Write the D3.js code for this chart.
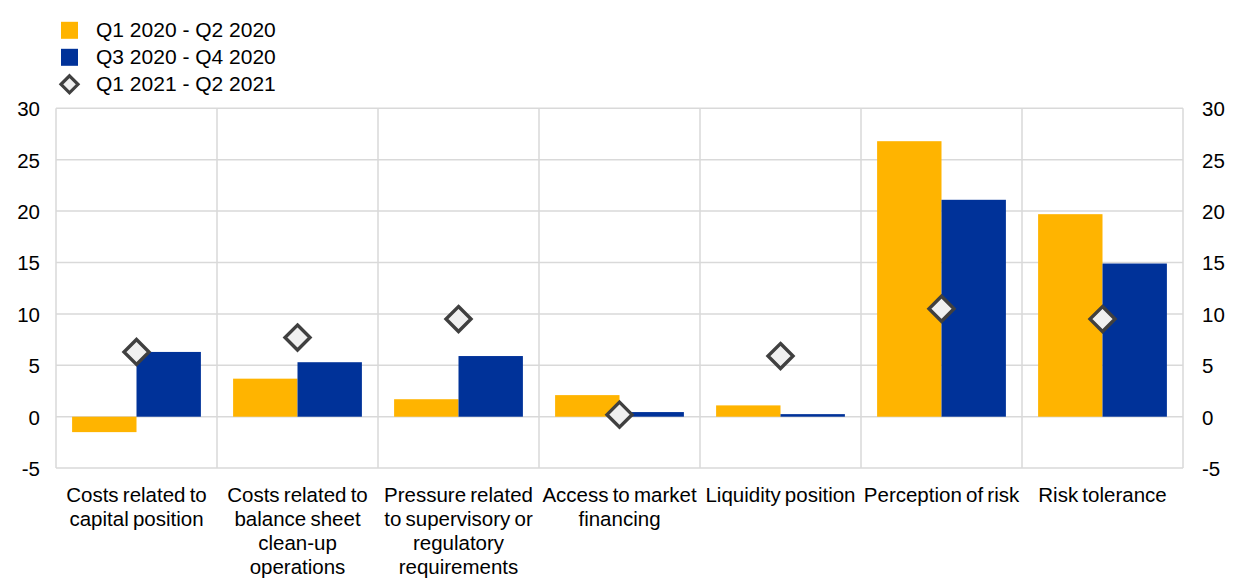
<!DOCTYPE html>
<html><head><meta charset="utf-8">
<script src="https://cdn.jsdelivr.net/npm/d3@7"></script>
<style>body{margin:0;background:#fff;} text{font-family:"Liberation Sans",Arial,sans-serif;}</style>
</head><body><svg id="c" width="1240" height="587"></svg>
<script>
const categories = [
  ["Costs related to","capital position"],
  ["Costs related to","balance sheet","clean-up","operations"],
  ["Pressure related","to supervisory or","regulatory","requirements"],
  ["Access to market","financing"],
  ["Liquidity position"],
  ["Perception of risk"],
  ["Risk tolerance"]
];
const seriesNames = ["Q1 2020 - Q2 2020","Q3 2020 - Q4 2020","Q1 2021 - Q2 2021"];
const h1_2020 = [-1.5, 3.7, 1.7, 2.1, 1.1, 26.8, 19.7];
const h2_2020 = [6.3, 5.3, 5.9, 0.45, 0.25, 21.1, 14.9];
const h1_2021 = [6.3, 7.7, 9.5, 0.2, 5.9, 10.5, 9.5];
const yTicks = [-5, 0, 5, 10, 15, 20, 25, 30];

const FS = 20.5;
const svg = d3.select("#c");
const L = 56, R = 1183, T = 108.3, B = 468.1;
const idx = d3.range(categories.length);
const x = d3.scaleBand().domain(idx).range([L, R]).paddingInner(0).paddingOuter(0);
const bw = x.bandwidth();
const x1 = d3.scaleBand().domain([0,1]).range([bw * 0.1, bw * 0.9]).paddingOuter(0).paddingInner(0);
const y = d3.scaleLinear().domain([-5, 30]).range([B, T]);
const grid = "#d9d9d9";

svg.append("g").selectAll("line").data(yTicks).join("line")
  .attr("x1", L).attr("x2", R).attr("y1", d => y(d)).attr("y2", d => y(d))
  .attr("stroke", grid).attr("stroke-width", 1.5);
svg.append("g").selectAll("line").data(d3.range(categories.length + 1)).join("line")
  .attr("x1", d => L + d * bw).attr("x2", d => L + d * bw)
  .attr("y1", T).attr("y2", B).attr("stroke", grid).attr("stroke-width", 1.5);

const yl = d3.axisLeft(y).tickValues(yTicks).tickSize(0).tickPadding(16);
const gl = svg.append("g").attr("transform", `translate(${L},0)`).call(yl);
const yr = d3.axisRight(y).tickValues(yTicks).tickSize(0).tickPadding(19);
const gr = svg.append("g").attr("transform", `translate(${R},0)`).call(yr);
[gl, gr].forEach(g => {
  g.select(".domain").remove();
  g.selectAll("text").attr("font-size", FS).attr("fill", "#000").attr("dy", "0.36em")
    .style("font-family", '"Liberation Sans",Arial,sans-serif')
    .text(d => String(d));
});

const colors = ["#FFB400", "#003299"];
[h1_2020, h2_2020].forEach((vals, s) => {
  svg.append("g").selectAll("rect").data(vals).join("rect")
    .attr("x", (d, i) => x(i) + x1(s))
    .attr("width", x1.bandwidth())
    .attr("y", d => y(Math.max(0, d)))
    .attr("height", d => Math.abs(y(d) - y(0)))
    .attr("fill", colors[s]);
});

const dsz = 12.5;
svg.append("g").selectAll("path").data(h1_2021).join("path")
  .attr("transform", (d, i) => `translate(${x(i) + bw / 2},${y(d)})`)
  .attr("d", `M0,${-dsz}L${dsz},0L0,${dsz}L${-dsz},0Z`)
  .attr("fill", "#f0f0f0").attr("stroke", "#404040").attr("stroke-width", 3.4)
  .attr("stroke-linejoin", "miter");

const xl = svg.append("g");
categories.forEach((lines, i) => {
  const cx = x(i) + bw / 2;
  const t = xl.append("text").attr("x", cx).attr("y", 502)
    .attr("text-anchor", "middle").attr("font-size", FS).attr("fill", "#000")
    .attr("word-spacing", "-1.5");
  lines.forEach((ln, j) => t.append("tspan").attr("x", cx).attr("dy", j ? 24 : 0).text(ln));
});

const lg = svg.append("g");
seriesNames.forEach((n, i) => {
  const base = 37.3 + i * 27;
  if (i < 2) {
    lg.append("rect").attr("x", 61).attr("y", base - 15.5).attr("width", 17).attr("height", 17).attr("fill", colors[i]);
  } else {
    lg.append("path").attr("transform", `translate(69.5,${base - 7})`)
      .attr("d", "M0,-8.5L8.5,0L0,8.5L-8.5,0Z").attr("fill", "#f0f0f0").attr("stroke", "#404040").attr("stroke-width", 3.2);
  }
  lg.append("text").attr("x", 96).attr("y", base).attr("font-size", 21).attr("fill", "#000")
    .text(n);
});
</script></body></html>
